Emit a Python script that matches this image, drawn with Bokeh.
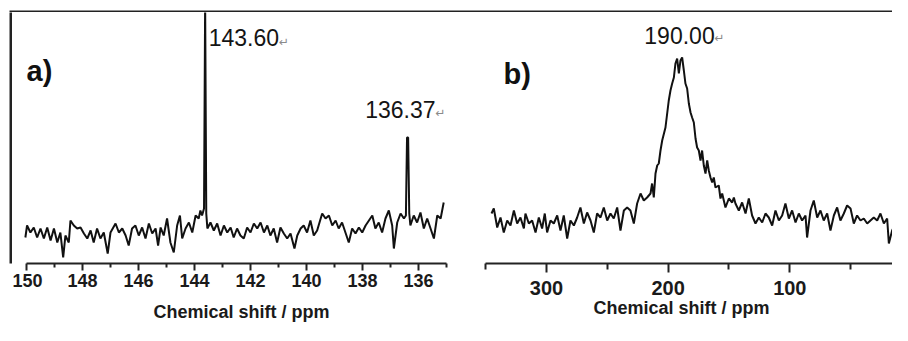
from bokeh.plotting import figure
from bokeh.layouts import row, column
from bokeh.models import Range1d, FixedTicker, Label
from bokeh.embed import file_html
from bokeh.resources import INLINE

# ---------------- data ----------------
# panel a) : narrow window
ppm_a = [150.04, 149.98, 149.86, 149.74, 149.62, 149.50, 149.38, 149.26, 149.14, 149.02,
         148.90, 148.79, 148.69, 148.61, 148.49, 148.43, 148.31, 148.19, 148.07, 147.95,
         147.83, 147.71, 147.60, 147.48, 147.36, 147.24, 147.10, 147.00, 146.82, 146.70,
         146.58, 146.46, 146.35, 146.23, 146.11, 145.99, 145.87, 145.75, 145.63, 145.51,
         145.39, 145.30, 145.21, 145.10, 144.98, 144.86, 144.74, 144.62, 144.52, 144.44,
         144.32, 144.20, 144.08, 143.96, 143.85, 143.79, 143.73, 143.66, 143.62, 143.58,
         143.54, 143.43, 143.31, 143.19, 143.07, 142.95, 142.83, 142.71, 142.60, 142.48,
         142.36, 142.24, 142.12, 142.00, 141.88, 141.76, 141.64, 141.52, 141.40, 141.29,
         141.17, 141.05, 140.93, 140.81, 140.69, 140.57, 140.43, 140.33, 140.21, 140.10,
         139.98, 139.86, 139.74, 139.62, 139.44, 139.32, 139.20, 139.08, 138.96, 138.85,
         138.73, 138.61, 138.49, 138.37, 138.25, 138.13, 138.01, 137.89, 137.77, 137.65,
         137.54, 137.42, 137.30, 137.18, 137.06, 136.94, 136.88, 136.76, 136.64, 136.52,
         136.45, 136.41, 136.37, 136.33, 136.29, 136.17, 136.05, 135.93, 135.81, 135.69,
         135.57, 135.45, 135.33, 135.21, 135.10]
int_a = [26, 38, 31, 36, 26, 35, 25, 36, 23, 35,
         21, 31, 6, 28, 21, 43, 38, 35, 36, 30,
         25, 33, 21, 35, 25, 31, 10, 31, 40, 31,
         35, 28, 18, 35, 38, 28, 36, 25, 40, 30,
         35, 18, 36, 28, 45, 21, 11, 38, 48, 25,
         35, 41, 31, 48, 45, 53, 48, 55, 262, 50,
         35, 41, 33, 40, 28, 38, 31, 36, 26, 35,
         28, 25, 36, 31, 40, 35, 41, 31, 38, 28,
         35, 21, 36, 30, 25, 30, 15, 28, 35, 38,
         31, 43, 28, 33, 50, 45, 48, 38, 43, 35,
         41, 31, 21, 35, 30, 36, 31, 38, 43, 48,
         35, 41, 31, 45, 53, 38, 15, 41, 50, 45,
         48, 126, 126, 50, 38, 48, 41, 51, 35, 45,
         35, 25, 48, 45, 61]

# panel b) : wide window
ppm_b = [345.2, 343.3, 340.5, 337.8, 335.1, 332.3, 329.6, 326.8, 324.1, 321.4,
         318.6, 317.3, 314.5, 311.8, 309.0, 306.3, 303.6, 301.4, 299.5, 296.7,
         294.0, 291.2, 288.5, 285.8, 283.0, 280.3, 277.5, 274.8, 272.1, 269.3,
         266.6, 263.8, 261.1, 258.4, 255.6, 252.9, 250.1, 247.4, 244.7, 241.9,
         239.2, 236.4, 233.7, 231.0, 228.2, 225.5, 222.7, 220.0, 217.3, 214.5,
         213.2, 211.8, 210.4, 209.0, 207.7, 206.3, 204.9, 202.2, 199.5, 198.1,
         196.7, 195.3, 194.0, 192.6, 191.2, 189.9, 188.5, 187.1, 185.8, 184.4,
         183.0, 181.6, 180.3, 178.9, 177.5, 176.2, 174.8, 173.4, 172.1, 170.7,
         169.3, 167.9, 166.6, 165.2, 163.8, 162.5, 161.1, 158.4, 157.0, 155.6,
         152.9, 150.1, 147.4, 146.0, 144.7, 141.9, 139.2, 136.4, 133.7, 131.0,
         128.2, 125.5, 122.7, 120.0, 117.3, 114.5, 111.8, 109.0, 106.3, 103.6,
         100.8, 98.1, 95.3, 92.6, 89.9, 87.1, 85.8, 83.0, 80.3, 77.5,
         74.8, 72.1, 69.3, 66.6, 63.8, 61.1, 58.4, 55.6, 52.9, 50.1,
         47.4, 44.7, 41.9, 39.2, 36.4, 33.7, 31.0, 28.2, 25.5, 22.7,
         20.0, 18.6, 15.9, 13.2, 10.4, 7.7, 4.9, 2.7]
int_b = [50, 55, 36, 46, 31, 43, 38, 53, 40, 46,
         35, 50, 40, 43, 31, 46, 35, 50, 31, 43,
         40, 48, 33, 48, 25, 43, 38, 46, 56, 40,
         51, 43, 31, 50, 46, 56, 43, 50, 45, 56,
         33, 53, 56, 53, 40, 60, 70, 63, 66, 70,
         80, 66, 90, 98, 100, 113, 123, 136, 163, 173,
         180, 186, 200, 205, 190, 203, 206, 193, 180, 175,
         160, 151, 146, 141, 125, 116, 113, 103, 113, 98,
         90, 103, 93, 86, 81, 86, 76, 78, 65, 70,
         56, 65, 61, 66, 60, 53, 61, 50, 65, 48,
         40, 46, 41, 50, 46, 38, 53, 43, 48, 60,
         45, 53, 41, 50, 43, 48, 26, 53, 63, 46,
         53, 43, 50, 33, 48, 56, 43, 50, 58, 55,
         40, 48, 43, 45, 40, 43, 46, 43, 50, 40,
         45, 20, 33, 40, 50, 43, 40, 50]

ticks_a = [150, 148, 146, 144, 142, 140, 138, 136]
minor_ticks_a = [149, 147, 145, 143, 141, 139, 137, 135]
ticks_b = [300, 200, 100, 0]
minor_ticks_b = [350, 250, 150, 50]

peaks_a = [143.60, 136.37]
peak_text_a = ["143.60", "136.37"]
peaks_b = [190.00]
peak_text_b = ["190.00"]
panel_names = ["a)", "b)"]
axis_title = "Chemical shift / ppm"
return_mark = "\u21b5"

# ---------------- styling ----------------
FRAME_COL = "#222222"
TRACE_COL = "#111111"
SANS = "Liberation Sans"


def base_fig(width, height, xr, yr, **kw):
    p = figure(width=width, height=height, x_range=xr, y_range=yr, title=None,
               output_backend="svg", toolbar_location=None,
               min_border_left=0, min_border_right=0, min_border_top=0,
               min_border_bottom=0, outline_line_color=None,
               border_fill_color="white", background_fill_color="white", **kw)
    p.grid.visible = False
    return p


def style_xaxis(p, ticks, minor, bounds, font_size, tick_out, minor_out, standoff, label_standoff):
    ax = p.xaxis[0]
    ax.ticker = FixedTicker(ticks=ticks, minor_ticks=minor)
    ax.bounds = bounds
    ax.axis_line_color = FRAME_COL
    ax.axis_line_width = 2
    ax.major_tick_line_color = FRAME_COL
    ax.major_tick_line_width = 2
    ax.minor_tick_line_color = FRAME_COL
    ax.minor_tick_line_width = 2
    ax.major_tick_in = 0
    ax.major_tick_out = tick_out
    ax.minor_tick_in = 0
    ax.minor_tick_out = minor_out
    ax.major_label_standoff = standoff
    ax.major_label_text_font = SANS
    ax.major_label_text_font_style = "bold"
    ax.major_label_text_font_size = f"{font_size}px"
    ax.major_label_text_color = "#1a1a1a"
    ax.axis_label = axis_title
    ax.axis_label_text_font = SANS
    ax.axis_label_text_font_style = "bold"
    ax.axis_label_text_font_size = "18px"
    ax.axis_label_text_color = "#1a1a1a"
    ax.axis_label_standoff = label_standoff


# decorative frame strips (top and left border of the original figure box)
top_strip = base_fig(892, 12, Range1d(0, 1), Range1d(0, 1),
                     x_axis_location=None, y_axis_location=None)
top_strip.min_border_left = 9
top_strip.min_border_top = 10
top_strip.background_fill_color = FRAME_COL

left_strip = base_fig(12, 313, Range1d(0, 1), Range1d(0, 1),
                      x_axis_location=None, y_axis_location=None)
left_strip.min_border_left = 9
left_strip.background_fill_color = FRAME_COL

# ---------------- panel a ----------------
pa = base_fig(458, 313, Range1d(150.5, 134.143), Range1d(0, 251), y_axis_location=None)
pa.min_border_bottom = 62
pa.line(ppm_a, int_a, line_color=TRACE_COL, line_width=2)
style_xaxis(pa, ticks_a, minor_ticks_a, (135, 150), 18, 7, 4, 3, 12)

# ---------------- panel b ----------------
pb = base_fig(422, 313, Range1d(362.46, 15.6), Range1d(0, 251), y_axis_location=None)
pb.min_border_bottom = 62
pb.line(ppm_b, int_b, line_color=TRACE_COL, line_width=2)
style_xaxis(pb, ticks_b, minor_ticks_b, (0, 350), 20, 9, 6, 8, 0)


def peak_label(p, x, y, text, x_off, mark_off, mark_y):
    p.add_layout(Label(x=x, y=y, text=text, x_offset=x_off, text_align="left",
                       text_baseline="middle", text_font=SANS, text_font_size="23px",
                       text_color="#141414"))
    p.add_layout(Label(x=x, y=mark_y, text=return_mark, x_offset=mark_off, text_align="left",
                       text_baseline="middle", text_font="DejaVu Sans", text_font_size="12px",
                       text_color="#8a8a8a"))


peak_label(pa, peaks_a[0], 226, peak_text_a[0], 3, 73, 222)
peak_label(pa, peaks_a[1], 154, peak_text_a[1], -43, 27, 151)
peak_label(pb, peaks_b[0], 228, peak_text_b[0], -36, 34, 226)

pa.add_layout(Label(x=150.0, y=193, text=panel_names[0], text_align="left",
                    text_baseline="middle", text_font=SANS, text_font_style="bold",
                    text_font_size="29px", text_color="#111111"))
pb.add_layout(Label(x=335.3, y=190, text=panel_names[1], text_align="left",
                    text_baseline="middle", text_font=SANS, text_font_style="bold",
                    text_font_size="29px", text_color="#111111"))

layout = column(top_strip, row(left_strip, pa, pb, spacing=0), spacing=0)

open("out.html", "w").write(file_html(layout, INLINE))
